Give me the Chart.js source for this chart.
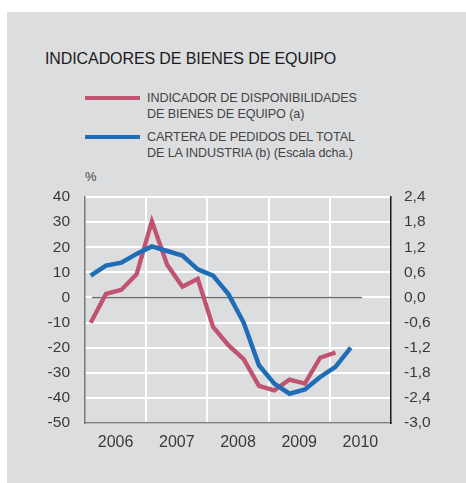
<!DOCTYPE html>
<html>
<head>
<meta charset="utf-8">
<script src="https://cdn.jsdelivr.net/npm/chart.js@4/dist/chart.umd.min.js"></script>
<style>
  html, body { margin: 0; padding: 0; background: #fff; }
  #wrap { position: relative; width: 466px; height: 483px; overflow: hidden; font-family: "Liberation Sans", Arial, sans-serif; }
  #panel { position: absolute; left: 7px; top: 12px; right: 0; bottom: 0; background: #dcdddf; }
  #chart { position: absolute; left: 0; top: 0; }
  .txt { position: absolute; white-space: nowrap; }
  #title { left: 45px; top: 50px; font-size: 16px; color: #1b1b1b; letter-spacing: -0.1px; }
  .leg { left: 147px; font-size: 12.6px; color: #444; line-height: 16px; letter-spacing: -0.1px; }
  .swatch { position: absolute; left: 85px; width: 55px; height: 4px; }
  #pct { left: 85px; top: 169px; font-size: 13px; color: #444; }
</style>
</head>
<body>
<div id="wrap">
  <div id="panel"></div>
  <div id="title" class="txt">INDICADORES DE BIENES DE EQUIPO</div>
  <div class="swatch" style="top:96px;background:#c0536f"></div>
  <div class="txt leg" style="top:90px">INDICADOR DE DISPONIBILIDADES<br>DE BIENES DE EQUIPO (a)</div>
  <div class="swatch" style="top:135px;background:#1f6db6"></div>
  <div class="txt leg" style="top:129px">CARTERA DE PEDIDOS DEL TOTAL<br>DE LA INDUSTRIA (b) (Escala dcha.)</div>
  <div id="pct" class="txt">%</div>
  <canvas id="chart" width="466" height="483"></canvas>
</div>
<script>
// years shown under the axis, one band per year (4 quarters each)
const years = ['2006', '2007', '2008', '2009', '2010'];

// quarterly values, first point = 2006 T1
const disponibilidades = [-10.1, 1.4, 3.0, 9.2, 30.3, 13.0, 4.3, 7.4, -11.7, -19.0, -24.6, -35.2, -37.0, -32.7, -34.3, -24.0, -21.9];
const cartera = [0.52, 0.76, 0.83, 1.04, 1.22, 1.11, 1.00, 0.67, 0.52, 0.08, -0.60, -1.62, -2.06, -2.30, -2.20, -1.90, -1.66, -1.20];

// zero reference line (left scale), start/end in quarters
const zeroLine = [{ x: 0.45, y: 0 }, { x: 18.1, y: 0 }];

const Q_OFFSET = 0.37;
const toPoints = arr => arr.map((v, i) => ({ x: i + Q_OFFSET, y: v }));

const RED = '#c0536f';
const BLUE = '#1f6db6';
const font = { family: '"Liberation Sans", Arial, sans-serif', size: 15.5 };

const ctx = document.getElementById('chart').getContext('2d');

new Chart(ctx, {
    type: 'line',
    data: {
        datasets: [{
            data: toPoints(disponibilidades),
            borderColor: RED,
            borderWidth: 4.3,
            pointRadius: 0,
            tension: 0,
            yAxisID: 'y',
            order: 2,
        },
        {
            data: toPoints(cartera),
            borderColor: BLUE,
            borderWidth: 4.5,
            pointRadius: 0,
            tension: 0,
            yAxisID: 'y1',
            order: 1,
        },
        {
            data: zeroLine,
            borderColor: '#6e6e6e',
            borderWidth: 1.5,
            pointRadius: 0,
            yAxisID: 'y',
            order: 3,
        }]
    },
    options: {
        responsive: false,
        animation: false,
        layout: { padding: { top: 197, left: 0, right: 0, bottom: 0 } },
        plugins: {
            legend: { display: false },
            tooltip: { enabled: false },
        },
        scales: {
            x: {
                type: 'linear',
                min: 0,
                max: 20,
                afterBuildTicks: (scale) => {
                    const t = [];
                    for (let v = 0; v <= 20; v += 2) t.push({ value: v });
                    scale.ticks = t;
                },
                afterFit: (scale) => { scale.height = 60; },
                grid: {
                    drawTicks: false,
                    lineWidth: 2,
                    color: (c) => {
                        const v = c.tick ? c.tick.value : 0;
                        return (v % 4 === 0 && v > 0 && v < 20) ? '#ffffff' : 'rgba(0,0,0,0)';
                    },
                },
                border: { display: true, color: '#7a7a7a', width: 1.5 },
                ticks: {
                    autoSkip: false,
                    maxRotation: 0,
                    padding: 10,
                    color: '#3a3a3a',
                    font: { family: font.family, size: 16 },
                    callback: (v) => (v % 4 === 2 ? years[(v - 2) / 4] : ''),
                },
            },
            y: {
                position: 'left',
                min: -50,
                max: 40,
                afterFit: (scale) => { scale.width = 85; },
                grid: { drawTicks: false, color: '#ffffff', lineWidth: 2 },
                border: { display: true, color: '#7a7a7a', width: 1.5 },
                ticks: { stepSize: 10, padding: 15, color: '#3a3a3a', font: font },
            },
            y1: {
                position: 'right',
                min: -3.0,
                max: 2.4,
                afterBuildTicks: (scale) => {
                    const t = [];
                    for (let i = 0; i <= 9; i++) t.push({ value: -3.0 + i * 0.6 });
                    scale.ticks = t;
                },
                afterFit: (scale) => { scale.width = 75; },
                grid: { display: false, drawTicks: false },
                border: { display: true, color: '#1a1a1a', width: 1.5 },
                ticks: {
                    padding: 13,
                    color: '#3a3a3a',
                    font: font,
                    callback: (v) => v.toFixed(1).replace('.', ','),
                },
            },
        },
    },
});
</script>
</body>
</html>
